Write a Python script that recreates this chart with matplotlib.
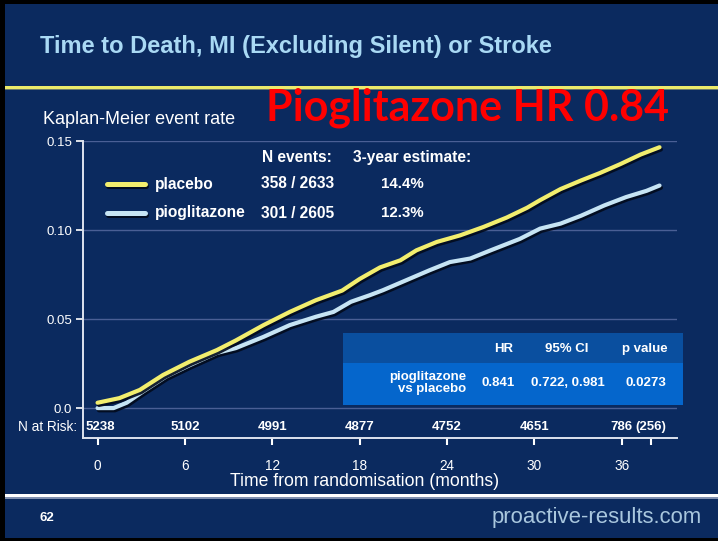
import matplotlib
matplotlib.use("Agg")
import matplotlib.pyplot as plt
import matplotlib.patheffects as pe
from matplotlib.patches import Rectangle

plt.rcParams['font.family'] = ['Liberation Sans', 'DejaVu Sans']

# data
placebo_months = [0, 1.5, 2.9, 4.5, 6.3, 8.2, 9.5, 11.4, 13.2, 15.0, 16.8, 18.0, 19.4, 20.8,
                  21.9, 23.3, 24.9, 26.5, 28.1, 29.5, 30.4, 31.8, 33.2, 34.5, 35.9, 37.3, 38.6]
placebo_rate = [0.003, 0.0056, 0.0102, 0.0186, 0.026, 0.0326, 0.038, 0.0466, 0.054, 0.0606,
                0.066, 0.0725, 0.079, 0.083, 0.0886, 0.0933, 0.097, 0.1017, 0.107, 0.1125,
                0.1168, 0.123, 0.1278, 0.132, 0.137, 0.1424, 0.1465]

pio_months = [0, 1.1, 2.0, 3.1, 4.7, 6.3, 8.2, 9.5, 11.4, 13.2, 15.0, 16.2, 17.4, 18.7, 19.6,
              21.2, 22.8, 24.2, 25.6, 27.0, 29.0, 30.4, 31.8, 33.2, 34.8, 36.3, 37.7, 38.6]
pio_rate = [0.0, 0.0, 0.003, 0.0092, 0.0177, 0.024, 0.031, 0.0337, 0.040, 0.0466, 0.0513,
            0.054, 0.0597, 0.0634, 0.0662, 0.0718, 0.0774, 0.082, 0.084, 0.0886, 0.095,
            0.1008, 0.1036, 0.108, 0.1138, 0.1185, 0.122, 0.125]

risk_months = [0, 6, 12, 18, 24, 30, 36, 38]
risk_labels = ['5238', '5102', '4991', '4877', '4752', '4651', '786', '(256)']

xticks = [0, 6, 12, 18, 24, 30, 36, 38]
xtick_labels = ['0', '6', '12', '18', '24', '30', '36', '']
yticks = [0.0, 0.05, 0.10, 0.15]
ytick_labels = ['0.0', '0.05', '0.10', '0.15']

groups = ['placebo', 'pioglitazone']
n_events = ['358 / 2633', '301 / 2605']
est_3y = ['14.4%', '12.3%']

hr_headers = ['HR', '95% CI', 'p value']
hr_values = ['0.841', '0.722, 0.981', '0.0273']

BG = '#0b2a5f'
YEL = '#f2ee6e'
BLU = '#c6e4f4'
W, H = 718, 541


def fx(x):
    return x / W


def fy(y):
    return 1 - y / H


def band(x0, y_top, w, h, col, z=1):
    fig.patches.append(Rectangle((fx(x0), fy(y_top + h)), w / W, h / H,
                                 transform=fig.transFigure, facecolor=col, lw=0, zorder=z))


fig = plt.figure(figsize=(7.18, 5.41), dpi=100, facecolor=BG)

# slide frame
band(0, 0, W, 4, 'black')
band(0, 538, W, 3, 'black')
band(0, 0, 5, H, 'black')
band(5, 88, W, 2, '#6b7a6a')
band(5, 85.5, W, 3, '#ecea6a')
band(5, 496.5, W, 2, '#8090b0')
band(5, 494, W, 3, 'white')

fig.text(fx(40), fy(47), 'Time to Death, MI (Excluding Silent) or Stroke', color='#a9d9f4',
         fontsize=17, fontweight='bold', va='center', ha='left')
fig.text(fx(468), fy(108), 'Pioglitazone HR 0.84', color='#ff0000', family='Lato',
         fontsize=31, fontweight='bold', va='center', ha='center')
fig.text(fx(43), fy(119), 'Kaplan-Meier event rate', color='white', fontsize=13,
         va='center', ha='left')
fig.text(fx(40), fy(518), '62', color='white', fontsize=9.5, fontweight='bold', va='center')
fig.text(fx(702), fy(518), 'proactive-results.com', color='#a9c7de', fontsize=15.9,
         va='center', ha='right')

ax = fig.add_axes([fx(83), fy(438), (677 - 83) / W, (438 - 141) / H])
ax.set_facecolor(BG)
ax.set_xlim(-1.0, 39.8)
ax.set_ylim(-0.0168, 0.15)

for v in yticks:
    ax.axhline(v, color='#4a5f95', lw=1, zorder=1)

shadow = [pe.SimpleLineShadow(offset=(1.0, -1.6), shadow_color='#020a1c', alpha=0.9),
          pe.Normal()]
ax.plot(placebo_months, placebo_rate, color=YEL, lw=3.0, solid_capstyle='round',
        solid_joinstyle='round', path_effects=shadow, zorder=4)
ax.plot(pio_months, pio_rate, color=BLU, lw=3.0, solid_capstyle='round',
        solid_joinstyle='round', path_effects=shadow, zorder=3)

for s in ['top', 'right']:
    ax.spines[s].set_visible(False)
for s in ['left', 'bottom']:
    ax.spines[s].set_color('#dde3ee')
    ax.spines[s].set_linewidth(1.4)

ax.set_yticks(yticks)
ax.set_yticklabels(ytick_labels)
ax.set_xticks(xticks)
ax.set_xticklabels(xtick_labels)
ax.tick_params(axis='y', colors='white', labelsize=9.5, length=5, width=1.2, pad=3)
ax.tick_params(axis='x', colors='white', labelsize=9.8, length=5, width=1.5, pad=10)
ax.set_xlabel('Time from randomisation (months)', color='white', fontsize=12.7)
ax.xaxis.set_label_coords((365 - 83) / 594, -(482 - 438) / 297, transform=ax.transAxes)
ax.xaxis.label.set_va('center')

# numbers at risk
for m, lab in zip(risk_months, risk_labels):
    ax.text(m + (0.2 if m == 0 else 0), -0.0107, lab, color='white', fontsize=9.5,
            fontweight='bold', ha='center', va='center')
fig.text(fx(77), fy(427), 'N at Risk:', color='white', fontsize=9.8, ha='right', va='center')

# legend block
fig.text(fx(262), fy(158), 'N events:', color='white', fontsize=11.2, fontweight='bold',
         va='center')
fig.text(fx(353), fy(158), '3-year estimate:', color='white', fontsize=11.2,
         fontweight='bold', va='center')
for i, (g, col) in enumerate(zip(groups, [YEL, BLU])):
    yy = 184 + 29 * i
    ax.plot([fx(107), fx(145)], [fy(yy), fy(yy)], transform=fig.transFigure, color=col,
            lw=3.6, solid_capstyle='round', path_effects=shadow, clip_on=False)
    fig.text(fx(155), fy(yy), g, color='white', fontsize=11.2, fontweight='bold', va='center')
    fig.text(fx(261), fy(yy), n_events[i], color='white', fontsize=11.2, fontweight='bold',
             va='center')
    fig.text(fx(381), fy(yy), est_3y[i], color='white', fontsize=10.8, fontweight='bold',
             va='center')

# hazard ratio table
band(343, 333, 340, 30, '#0a4f9f', z=5)
band(343, 363, 340, 42, '#0566cc', z=5)
for xc, t in zip([504, 567, 645], hr_headers):
    fig.text(fx(xc), fy(349), t, color='white', fontsize=9.5, fontweight='bold',
             ha='center', va='center', zorder=6)
for xc, t in zip([498, 568, 646], hr_values):
    fig.text(fx(xc), fy(383), t, color='white', fontsize=9.5, fontweight='bold',
             ha='center', va='center', zorder=6)
fig.text(fx(466), fy(383), 'pioglitazone\nvs placebo', color='white', fontsize=9.5,
         fontweight='bold', ha='right', va='center', multialignment='right',
         linespacing=1.0, zorder=6)

fig.savefig('out.png', dpi=100, facecolor=BG)
